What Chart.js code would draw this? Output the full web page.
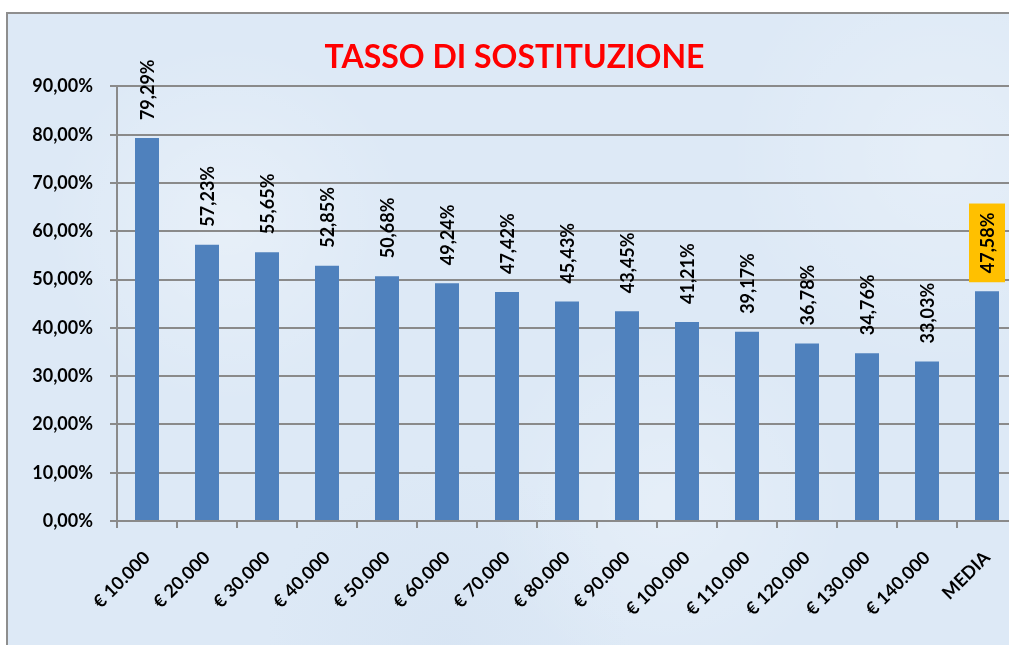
<!DOCTYPE html>
<html lang="it">
<head>
  <meta charset="UTF-8" />
  <title>Tasso di sostituzione</title>
  <script src="https://cdn.jsdelivr.net/npm/chart.js"></script>
  <style>
    html, body { margin: 0; padding: 0; overflow: hidden; background: #fff; }
    body { width: 1009px; height: 645px; position: relative; }
    .frame {
      position: absolute; left: 6px; top: 12px; width: 1100px; height: 700px;
      border: 2px solid #8e8e8e;
      background-color: #dde9f6;
      background-image:
        radial-gradient(circle at 20% 30%, rgba(255,255,255,0.3) 0, rgba(255,255,255,0) 18%),
        radial-gradient(circle at 60% 70%, rgba(255,255,255,0.25) 0, rgba(255,255,255,0) 22%),
        radial-gradient(circle at 85% 20%, rgba(255,255,255,0.25) 0, rgba(255,255,255,0) 20%),
        radial-gradient(circle at 40% 90%, rgba(205,220,238,0.3) 0, rgba(205,220,238,0) 20%);
    }
    .wrap { position: absolute; left: 0; top: 0; width: 1029px; height: 645px; }
  </style>
</head>
<body>
  <div class="frame"></div>
  <div class="wrap"><canvas id="barChart" width="1029" height="645"></canvas></div>
<script>
  const categories = ['€ 10.000', '€ 20.000', '€ 30.000', '€ 40.000', '€ 50.000', '€ 60.000', '€ 70.000',
    '€ 80.000', '€ 90.000', '€ 100.000', '€ 110.000', '€ 120.000', '€ 130.000', '€ 140.000', 'MEDIA'];
  const tasso = [79.29, 57.23, 55.65, 52.85, 50.68, 49.24, 47.42, 45.43, 43.45, 41.21, 39.17, 36.78, 34.76, 33.03, 47.58];
  const yMax = 90;
  const yStep = 10;

  const fmt = v => v.toFixed(2).replace('.', ',') + '%';
  const FONT = 'Lato, "Open Sans", sans-serif';

  // etichette valori ruotate sopra le barre
  const valueLabels = {
    id: 'valueLabels',
    afterDatasetsDraw(chart) {
      const ctx = chart.ctx;
      const meta = chart.getDatasetMeta(0);
      ctx.save();
      ctx.font = 'bold 18px ' + FONT;
      meta.data.forEach((bar, i) => {
        const txt = fmt(tasso[i]);
        const w = ctx.measureText(txt).width;
        const x = bar.x;
        const y = bar.y - 18;
        if (i === tasso.length - 1) {
          ctx.fillStyle = '#FFC000';
          ctx.fillRect(x - 18, y - w - 9, 36, w + 18);
        }
        ctx.translate(x, y);
        ctx.rotate(-Math.PI / 2);
        ctx.fillStyle = '#000';
        ctx.textAlign = 'left';
        ctx.textBaseline = 'middle';
        ctx.fillText(txt, 0, 1);
        ctx.setTransform(1, 0, 0, 1, 0, 0);
      });
      ctx.restore();
    }
  };

  new Chart(document.getElementById('barChart'), {
    type: 'bar',
    data: {
      labels: categories,
      datasets: [{
        data: tasso,
        backgroundColor: '#4F81BD',
        barPercentage: 0.4,
        categoryPercentage: 1.0
      }]
    },
    options: {
      responsive: false,
      animation: false,
      layout: { padding: { left: 12, right: 12, top: 0, bottom: 0 } },
      plugins: {
        legend: { display: false },
        tooltip: { enabled: false },
        title: {
          display: true,
          text: 'TASSO DI SOSTITUZIONE',
          color: '#FF0000',
          font: { family: FONT, size: 32, weight: 'bold' },
          padding: { top: 38, bottom: 10 }
        }
      },
      scales: {
        x: {
          grid: { display: true, drawOnChartArea: false, drawTicks: true, tickLength: 7, color: '#8a8a8a', lineWidth: 2, offset: true },
          border: { color: '#8a8a8a', width: 2 },
          ticks: {
            color: '#000', minRotation: 45, maxRotation: 45, padding: 19, autoSkip: false,
            font: { family: FONT, size: 18, weight: 'bold' }
          },
          afterFit(scale) { scale.height = 124; }
        },
        y: {
          min: 0, max: yMax,
          grid: { color: '#8a8a8a', lineWidth: 2, tickLength: 7 },
          border: { color: '#8a8a8a', width: 2 },
          ticks: {
            stepSize: yStep, color: '#000', padding: 17,
            font: { family: FONT, size: 18, weight: 'bold' },
            callback: v => fmt(v)
          },
          afterFit(scale) { scale.width = 105; }
        }
      }
    },
    plugins: [valueLabels]
  });
</script>
</body>
</html>
